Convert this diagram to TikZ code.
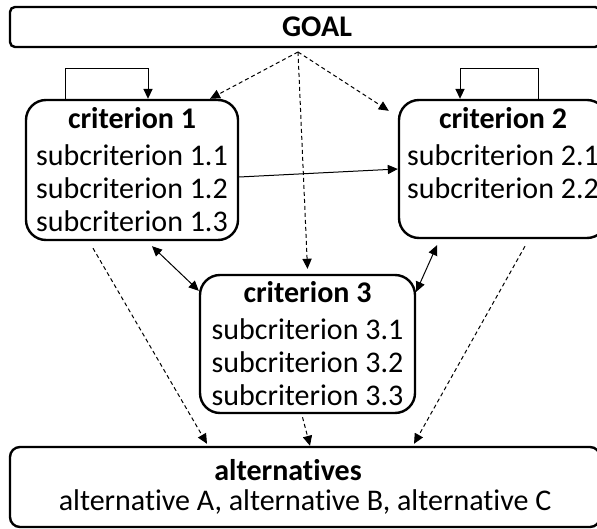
\documentclass[tikz,border=0pt]{standalone}
\usepackage{fontspec}
\setmainfont[Ligatures=NoCommon]{Carlito}
\usetikzlibrary{arrows.meta}

\tikzset{
  box/.style={draw, line width=1.2pt, align=center, inner sep=0pt,
    font=\fontsize{15}{16.5}\selectfont},
  critbox/.style={box, rounded corners=10pt, minimum height=69pt},
  widebox/.style={box, minimum width=295pt},
  link/.style={line width=0.5pt},
  dashlink/.style={link, dash pattern=on 2pt off 1.5pt}
}

\begin{document}
\begin{tikzpicture}[x=0.5pt, y=-0.5pt, >={Triangle[length=5pt, width=4.6pt]}]
  \useasboundingbox (0,0) rectangle (597,528);
  \clip (0,0) rectangle (597,528);

  % goal and alternatives
  \node[widebox, rounded corners=2.5pt, minimum height=20pt] (goal) at (305,27)
    {\hspace*{12pt}\textbf{GOAL}};
  \node[widebox, rounded corners=5pt, minimum height=40pt] (alt) at (305,487)
    {\textbf{alternatives}\hspace*{17pt}\\[-1.5pt]
     alternative A, alternative B, alternative C};

  % criteria
  \node[critbox, minimum width=106pt, minimum height=70pt] (c1) at (132,170)
    {\textbf{criterion 1}\\[2pt] subcriterion 1.1\\ subcriterion 1.2\\ subcriterion 1.3};
  \node[critbox, minimum width=104pt] (c2) at (503,169)
    {\textbf{criterion 2}\\[2pt] subcriterion 2.1\\ subcriterion 2.2\\ \mbox{}};
  \node[critbox, minimum width=107.5pt] (c3) at (307.5,344)
    {\textbf{criterion 3}\\[2pt] subcriterion 3.1\\ subcriterion 3.2\\ subcriterion 3.3};

  % self loops
  \draw[link,->] (65,0 |- c1.north) -- (65,69) -| (148,0 |- c1.north);
  \draw[link,->] (538,0 |- c2.north) -- (538,69) -| (460,0 |- c2.north);

  % from the goal
  \coordinate (fan) at (298,52);
  \draw[dashlink,->] (fan) -- (210,0 |- c1.north);
  \draw[dashlink,->] (fan) -- ([shift={(-9,12)}]c2.north west);
  \draw[dashlink,->] (fan) -- ([yshift=2.5pt]c3.north);

  % between criteria
  \draw[link,->] ([yshift=-3.5pt]c1.east) -- (c2.west);
  \draw[link,<->] ([shift={(20,5)}]c1.south) -- ([shift={(0,17)}]c3.north west);
  \draw[link,<->] ([shift={(-66,6)}]c2.south) -- ([shift={(0,18)}]c3.north east);

  % to the alternatives
  \draw[dashlink,->] ([shift={(-39,7)}]c1.south) -- ([shift={(-98,-2)}]alt.north);
  \draw[dashlink,->] ([shift={(-5,3)}]c3.south) -- ([shift={(5,0)}]alt.north);
  \draw[dashlink,->] ([shift={(22,7)}]c2.south) -- ([shift={(109,-2)}]alt.north);
\end{tikzpicture}
\end{document}
